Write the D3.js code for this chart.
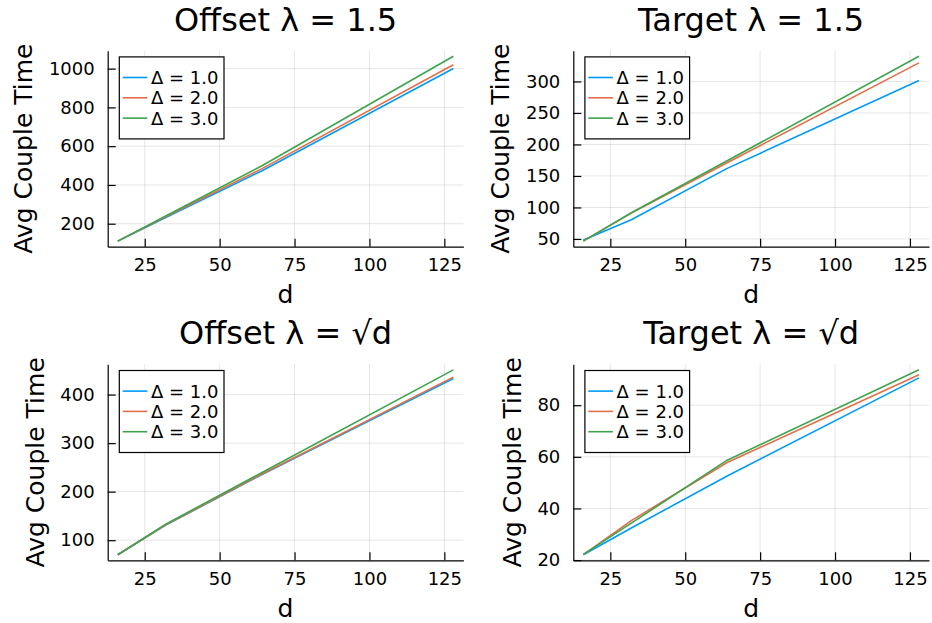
<!DOCTYPE html>
<html>
<head>
<meta charset="utf-8">
<script src="https://cdn.jsdelivr.net/npm/d3@7"></script>
<style>
  html, body { margin: 0; padding: 0; background: #fff; }
  svg { display: block; font-family: "DejaVu Sans", sans-serif; }
</style>
</head>
<body>
<svg id="chart" width="932" height="623"></svg>
<script>
// ---------------- data ----------------
const dValues = [16, 32, 64, 128];
const seriesLabels = ["Δ = 1.0", "Δ = 2.0", "Δ = 3.0"];
const seriesColors = ["#009af9", "#e26f46", "#3da44d"];
const xTickValues = [25, 50, 75, 100, 125];

const offset15_d1 = [110, 232, 472, 1001];
const offset15_d2 = [110, 236, 483, 1020];
const offset15_d3 = [110, 240, 498, 1064];

const target15_d1 = [48.5, 80.5, 162, 301.5];
const target15_d2 = [47, 91, 171, 329.5];
const target15_d3 = [46.5, 91.5, 174, 340];

const offsetSqrt_d1 = [70, 131, 235, 433];
const offsetSqrt_d2 = [70, 131.5, 236, 436];
const offsetSqrt_d3 = [70, 133, 239, 451];

const targetSqrt_d1 = [22.06, 32.4, 52.6, 90.6];
const targetSqrt_d2 = [22.1, 35.3, 57.8, 91.8];
const targetSqrt_d3 = [22.2, 34.3, 58.7, 93.7];

const titles = ["Offset λ = 1.5", "Target λ = 1.5", "Offset λ = √d", "Target λ = √d"];
const yTicks1 = [200, 400, 600, 800, 1000];
const yTicks2 = [50, 100, 150, 200, 250, 300];
const yTicks3 = [100, 200, 300, 400];
const yTicks4 = [20, 40, 60, 80];
const xLabel = "d";
const yLabel = "Avg Couple Time";

// ---------------- layout ----------------
const panels = [
  { title: titles[0], series: [offset15_d1, offset15_d2, offset15_d3], yTicks: yTicks1, l: 107.7, r: 463.4, t: 50.7, b: 246.7 },
  { title: titles[1], series: [target15_d1, target15_d2, target15_d3], yTicks: yTicks2, l: 573.3, r: 929.0, t: 50.7, b: 246.7 },
  { title: titles[2], series: [offsetSqrt_d1, offsetSqrt_d2, offsetSqrt_d3], yTicks: yTicks3, l: 107.7, r: 463.4, t: 364.3, b: 560.3 },
  { title: titles[3], series: [targetSqrt_d1, targetSqrt_d2, targetSqrt_d3], yTicks: yTicks4, l: 573.3, r: 929.0, t: 364.3, b: 560.3 }
];

const svg = d3.select("#chart");
const fmt = d3.format("d");

function padded(lo, hi) {
  const p = (hi - lo) * 0.03;
  return [lo - p, hi + p];
}

panels.forEach(P => {
  const g = svg.append("g");
  const xExt = d3.extent(dValues);
  const x = d3.scaleLinear().domain(padded(xExt[0], xExt[1])).range([P.l, P.r]);
  const allY = P.series.flat();
  const y = d3.scaleLinear().domain(padded(d3.min(allY), d3.max(allY))).range([P.b, P.t]);

  const yTicks = P.yTicks.filter(v => v >= y.domain()[0] - 0.2 && v <= y.domain()[1] + 0.2);

  // grid
  g.append("g").selectAll("line").data(xTickValues).join("line")
    .attr("x1", d => x(d)).attr("x2", d => x(d))
    .attr("y1", P.t).attr("y2", P.b)
    .attr("stroke", "#000").attr("stroke-opacity", 0.1).attr("stroke-width", 1);
  g.append("g").selectAll("line").data(yTicks).join("line")
    .attr("x1", P.l).attr("x2", P.r)
    .attr("y1", d => y(d)).attr("y2", d => y(d))
    .attr("stroke", "#000").attr("stroke-opacity", 0.1).attr("stroke-width", 1);

  // lines
  const line = d3.line().x((d, i) => x(dValues[i])).y(d => y(d));
  P.series.forEach((s, i) => {
    g.append("path").datum(s)
      .attr("fill", "none")
      .attr("stroke", seriesColors[i])
      .attr("stroke-width", 1.6)
      .attr("stroke-linejoin", "round")
      .attr("d", line);
  });

  // axes
  const xAxis = g.append("g").attr("transform", `translate(0,${P.b})`)
    .call(d3.axisBottom(x).tickValues(xTickValues).tickFormat(fmt).tickSize(-8).tickSizeOuter(0).tickPadding(11.7));
  const yAxis = g.append("g").attr("transform", `translate(${P.l},0)`)
    .call(d3.axisLeft(y).tickValues(yTicks).tickFormat(fmt).tickSize(-8).tickSizeOuter(0).tickPadding(13));
  [xAxis, yAxis].forEach(a => {
    a.attr("color", "#000");
    a.select(".domain").attr("stroke-width", 1.2);
    a.selectAll(".tick line").attr("stroke-width", 1.2);
    a.selectAll("text").attr("font-family", "DejaVu Sans").attr("font-size", 18).attr("fill", "#000");
  });

  // title
  g.append("text")
    .attr("x", (P.l + P.r) / 2).attr("y", P.t - 20)
    .attr("text-anchor", "middle")
    .attr("font-size", 32).attr("fill", "#000")
    .text(P.title);

  // x label
  g.append("text")
    .attr("x", (P.l + P.r) / 2).attr("y", P.b + 56.3)
    .attr("text-anchor", "middle")
    .attr("font-size", 25).attr("fill", "#000")
    .text(xLabel);

  // y label
  let minLeft = Infinity;
  yAxis.selectAll("text").each(function () {
    const bb = this.getBBox();
    minLeft = Math.min(minLeft, P.l + bb.x);
  });
  const bx = minLeft - 16.5;
  g.append("text")
    .attr("transform", `translate(${bx},${(P.t + P.b) / 2}) rotate(-90)`)
    .attr("text-anchor", "middle")
    .attr("font-size", 25).attr("fill", "#000")
    .text(yLabel);

  // legend
  const lg = g.append("g").attr("transform", `translate(${P.l + 11.6},${P.t + 6.2})`);
  lg.append("rect").attr("x", 0).attr("y", 0).attr("width", 104.7).attr("height", 82)
    .attr("fill", "#fff").attr("stroke", "#000").attr("stroke-width", 1.2);
  seriesLabels.forEach((lab, i) => {
    const yy = 20.6 + i * 20.3;
    lg.append("line").attr("x1", 3.4).attr("x2", 28).attr("y1", yy).attr("y2", yy)
      .attr("stroke", seriesColors[i]).attr("stroke-width", 1.6);
    lg.append("text").attr("x", 31.7).attr("y", yy).attr("dy", "0.36em")
      .attr("font-size", 18).attr("fill", "#000").text(lab);
  });
});
</script>
</body>
</html>
